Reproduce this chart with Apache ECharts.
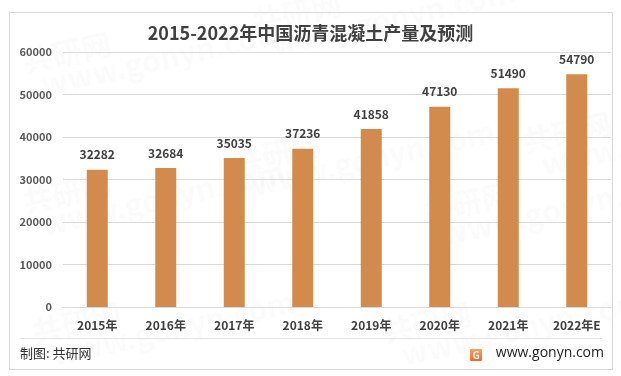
<!DOCTYPE html>
<html>
<head>
<meta charset="utf-8">
<script src="https://cdn.jsdelivr.net/npm/echarts@6/dist/echarts.min.js"></script>
<style>
  html, body { margin: 0; padding: 0; background: #fff; }
  #chart { width: 621px; height: 376px; }
</style>
</head>
<body>
<div id="chart"></div>
<script>
// 数据
const years = ['2015年', '2016年', '2017年', '2018年', '2019年', '2020年', '2021年', '2022年E']
const output = [32282, 32684, 35035, 37236, 41858, 47130, 51490, 54790]
const yTicks = [0, 10000, 20000, 30000, 40000, 50000, 60000]

const chart = echarts.init(document.getElementById('chart'))
const font = '"Noto Sans CJK SC", "Open Sans", sans-serif'

// 水印
const marks = [[20, 50], [250, 10], [20, 190], [230, 150], [420, 200], [30, 320], [380, 320], [520, 130]]
  .map(([x, y]) => ({
    type: 'text',
    x: x,
    y: y,
    rotation: 0.22,
    silent: true,
    z: -1,
    style: {
      text: '共研网\n  www.gonyn.com',
      fill: 'rgba(200,200,200,0.07)',
      font: 'bold 30px ' + font,
      lineHeight: 26
    }
  }))

const option = {
  backgroundColor: '#fff',
  animation: false,
  textStyle: { fontFamily: font },
  title: {
    text: '2015-2022年中国沥青混凝土产量及预测',
    left: 'center',
    top: 19,
    textStyle: { fontSize: 18, fontWeight: 'bold', color: '#404040', fontFamily: font }
  },
  grid: { left: 63, right: 10, top: 52, bottom: 69 },
  xAxis: {
    type: 'category',
    data: years,
    axisTick: { show: false },
    axisLine: { lineStyle: { color: '#d9d9d9' } },
    axisLabel: { color: '#404040', fontSize: 12, fontWeight: 'bold', margin: 12, interval: 0 }
  },
  yAxis: {
    type: 'value',
    min: yTicks[0],
    max: yTicks[yTicks.length - 1],
    interval: 10000,
    axisLine: { show: false },
    axisTick: { show: false },
    axisLabel: {
      color: '#595959',
      fontSize: 11,
      fontWeight: 'bold',
      margin: 11,
      formatter: v => String(v)
    },
    splitLine: { lineStyle: { color: '#d9d9d9' } }
  },
  series: [{
    type: 'bar',
    data: output,
    barWidth: 21,
    itemStyle: { color: '#D38B4D' },
    label: {
      show: true,
      position: 'top',
      distance: 9,
      color: '#404040',
      fontSize: 12,
      fontWeight: 'bold'
    }
  }],
  graphic: [
    ...marks,
    // 外框
    {
      type: 'rect',
      shape: { x: 9.5, y: 12.5, width: 603, height: 357 },
      style: { fill: 'none', stroke: '#d9d9d9', lineWidth: 1 },
      silent: true
    },
    // 底部分隔线
    {
      type: 'line',
      shape: { x1: 20, y1: 338.5, x2: 602, y2: 338.5 },
      style: { stroke: '#e3e3e3', lineWidth: 1 },
      silent: true
    },
    {
      type: 'text',
      x: 20,
      y: 347,
      style: { text: '制图: 共研网', fill: '#333', font: '13px ' + font }
    },
    {
      type: 'rect',
      shape: { x: 470, y: 349, width: 12, height: 12, r: 1 },
      style: {
        fill: new echarts.graphic.LinearGradient(0, 0, 0, 1, [
          { offset: 0, color: '#f7a35a' },
          { offset: 1, color: '#ee6b2d' }
        ])
      }
    },
    {
      type: 'text',
      x: 476,
      y: 355,
      style: { text: 'G', fill: '#fff', font: 'bold 10px ' + font, align: 'center', verticalAlign: 'middle' }
    },
    {
      type: 'text',
      x: 604,
      y: 346,
      style: { text: 'www.gonyn.com', fill: '#222', font: '14px "Open Sans", sans-serif', align: 'right' }
    }
  ]
}

chart.setOption(option)
</script>
</body>
</html>
